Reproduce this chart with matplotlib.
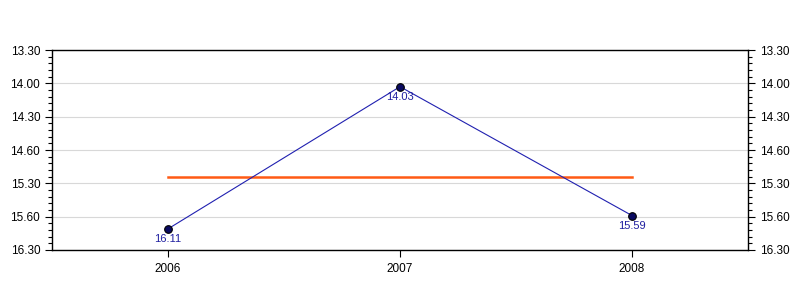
import matplotlib
matplotlib.use("Agg")
import matplotlib.pyplot as plt
from matplotlib.ticker import MultipleLocator

# times as min.sec
years = [2006, 2007, 2008]
times = ["16.11", "14.03", "15.59"]
tick_secs = [810, 840, 870, 900, 930, 960, 990]
tick_labels = ["13.30", "14.00", "14.30", "14.60", "15.30", "15.60", "16.30"]

def to_sec(t):
    m, s = t.split(".")
    return int(m) * 60 + int(s)

secs = [to_sec(t) for t in times]
mean_sec = sum(secs) / len(secs)

plt.rcParams["font.family"] = ["Liberation Sans", "DejaVu Sans"]

fig = plt.figure(figsize=(8, 3), dpi=100)
ax = fig.add_axes([52 / 800, 50 / 300, 696 / 800, 200 / 300])

ax.set_xlim(2005.5, 2008.5)
ax.set_ylim(tick_secs[-1], tick_secs[0])

ax.set_yticks(tick_secs)
ax.set_yticklabels(tick_labels)
ax.yaxis.set_minor_locator(MultipleLocator(6))
ax.set_xticks(years)
ax.set_xticklabels([str(y) for y in years])

ax.grid(axis="y", color="#d8d8d8", linewidth=0.8)
ax.set_axisbelow(True)

ax.plot([years[0], years[-1]], [mean_sec, mean_sec], color="#ff5a14", linewidth=1.8, zorder=2)
ax.plot(years, secs, color="#2020b0", linewidth=0.8, marker="o", markersize=5.5,
        markerfacecolor="#0a0a60", markeredgecolor="black", markeredgewidth=0.8, zorder=3)

for x, y, t in zip(years, secs, times):
    ax.annotate(t, (x, y), xytext=(0, -4), textcoords="offset points",
                ha="center", va="top", fontsize=8, color="#2020a0")

ax.tick_params(axis="y", which="major", length=5, width=0.8, labelsize=8.5,
               left=True, right=True, labelleft=True, labelright=True)
ax.tick_params(axis="y", which="minor", length=3, width=0.8, left=True, right=True)
ax.tick_params(axis="x", length=5, width=0.8, labelsize=8.5, pad=4)
for sp in ax.spines.values():
    sp.set_linewidth(1.0)

fig.savefig("out.png", dpi=100)
